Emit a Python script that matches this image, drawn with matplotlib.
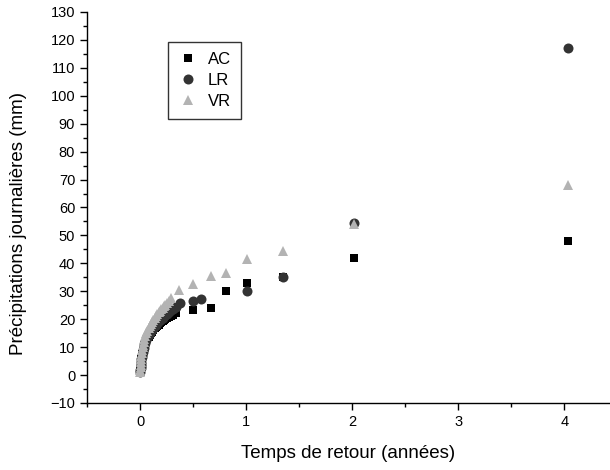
import matplotlib
matplotlib.use("Agg")
import matplotlib.pyplot as plt
from matplotlib.ticker import MultipleLocator

plt.rcParams.update({
    "font.family": ["Liberation Sans", "DejaVu Sans"],
    "font.size": 10,
    "axes.linewidth": 1.0,
    "xtick.direction": "out",
    "ytick.direction": "out",
})

# ── Data (return period in years, daily rainfall in mm) ───────────────────────
AC_x = [4.03, 2.015, 1.343, 1.008, 0.806, 0.672, 0.504,
        0.336, 0.310, 0.288, 0.269, 0.252, 0.237, 0.224, 0.212, 0.202, 0.192,
        0.175, 0.161, 0.149, 0.139, 0.126, 0.112, 0.101, 0.090, 0.080, 0.070,
        0.060, 0.050, 0.042, 0.035, 0.029, 0.024, 0.020, 0.016, 0.013, 0.010,
        0.008, 0.006, 0.005, 0.004, 0.003]
AC_y = [48, 42, 35, 33, 30, 24, 23.3,
        22.2, 21.6, 21.2, 20.8, 20.4, 20, 19.6, 19.3, 19, 18.6,
        18.1, 17.6, 17.1, 16.7, 16.1, 15.5, 15, 14.4, 13.8, 13.1,
        12.3, 11.4, 10.6, 9.8, 9, 8.2, 7.4, 6.6, 5.8, 5,
        4.2, 3.4, 2.6, 1.8, 1]

LR_x = [4.03, 2.015, 1.343, 1.008, 0.576, 0.504, 0.380,
        0.336, 0.310, 0.288, 0.269, 0.252, 0.237, 0.224, 0.212, 0.202, 0.192,
        0.175, 0.161, 0.149, 0.139, 0.126, 0.112, 0.101, 0.090, 0.080, 0.070,
        0.060, 0.050, 0.042, 0.035, 0.029, 0.024, 0.020, 0.016, 0.013, 0.010,
        0.008, 0.006, 0.005, 0.004, 0.003]
LR_y = [117, 54.5, 35, 30, 27.3, 26.6, 25.8,
        24.4, 23.8, 23.2, 22.6, 22, 21.5, 21, 20.6, 20.2, 19.8,
        19.2, 18.6, 18, 17.5, 16.9, 16.2, 15.6, 15, 14.3, 13.5,
        12.6, 11.6, 10.7, 9.8, 9, 8.1, 7.3, 6.4, 5.6, 4.7,
        3.9, 3.1, 2.4, 1.7, 1]

VR_x = [4.03, 2.015, 1.343, 1.008, 0.806, 0.672, 0.504, 0.366,
        0.288, 0.269, 0.252, 0.237, 0.224, 0.212, 0.202, 0.192,
        0.175, 0.161, 0.149, 0.139, 0.126, 0.112, 0.101, 0.090, 0.080, 0.070,
        0.060, 0.050, 0.042, 0.035, 0.029, 0.024, 0.020, 0.016, 0.013, 0.010,
        0.008, 0.006, 0.005, 0.004, 0.003]
VR_y = [68, 54, 44.5, 41.5, 36.5, 35.5, 32.5, 30.5,
        27.5, 26.5, 25.8, 25.2, 24.6, 24, 23.5, 23,
        22.4, 21.7, 21, 20.4, 19.7, 19, 18.3, 17.6, 16.8, 15.9,
        15, 13.9, 12.9, 11.9, 10.9, 9.9, 8.9, 7.8, 6.8, 5.7,
        4.7, 3.7, 2.8, 1.9, 1]

COLOR_AC = "#000000"
COLOR_LR = "#333333"
COLOR_VR = "#b3b3b3"

fig = plt.figure(figsize=(6.1, 4.7), dpi=100)
ax = fig.add_axes([0.1426, 0.1426, 0.8574, 0.8319])

ax.plot(AC_x, AC_y, "s", color=COLOR_AC, ms=6.3, mew=0, label="AC")
ax.plot(LR_x, LR_y, "o", color=COLOR_LR, ms=7.2, mew=0, label="LR")
ax.plot(VR_x, VR_y, "^", color=COLOR_VR, ms=7.8, mew=0, label="VR")

ax.set_xlim(-0.5, 4.43)
ax.set_ylim(-10, 130)
ax.xaxis.set_major_locator(MultipleLocator(1))
ax.xaxis.set_minor_locator(MultipleLocator(0.5))
ax.yaxis.set_major_locator(MultipleLocator(10))
ax.yaxis.set_minor_locator(MultipleLocator(5))
ax.tick_params(which="major", length=5, width=1.0, labelsize=10.5)
ax.tick_params(which="minor", length=3, width=1.0)
ax.spines["top"].set_visible(False)
ax.spines["right"].set_visible(False)

ax.set_xlabel("Temps de retour (années)", fontsize=13.5, va="center")
ax.xaxis.set_label_coords(0.5, -0.128)
ax.set_ylabel("Précipitations journalières (mm)", fontsize=13.5, va="center")
ax.yaxis.set_label_coords(-0.131, 0.46)

leg = ax.legend(loc="upper left", bbox_to_anchor=(0.155, 0.923), borderaxespad=0,
                fontsize=12, frameon=True, fancybox=False, handletextpad=0.6,
                labelspacing=0.35, borderpad=0.6, handlelength=1.2)
leg.get_frame().set_edgecolor("black")
leg.get_frame().set_linewidth(1.0)

fig.savefig("out.png", dpi=100, facecolor="white")
